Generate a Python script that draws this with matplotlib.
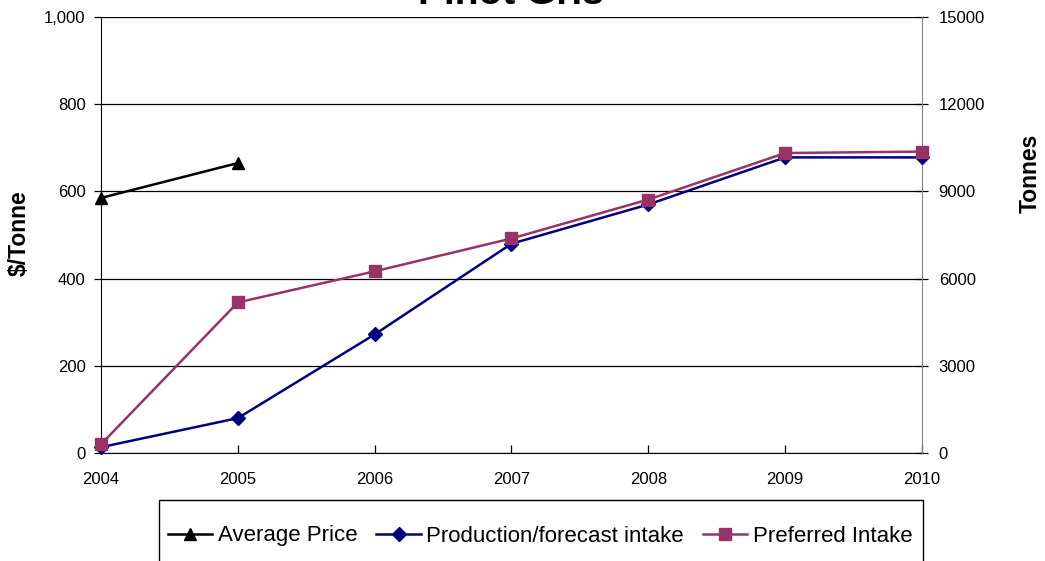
import matplotlib
matplotlib.use("Agg")
import matplotlib.pyplot as plt
from matplotlib.patches import Rectangle

plt.rcParams['font.family'] = ['Liberation Sans', 'DejaVu Sans']

years = [2004, 2005, 2006, 2007, 2008, 2009, 2010]
price_years = [2004, 2005]
average_price = [585, 665]
production_intake = [200, 1200, 4080, 7200, 8550, 10170, 10170]
preferred_intake = [300, 5180, 6250, 7380, 8720, 10320, 10370]

left_ticks = [0, 200, 400, 600, 800, 1000]
right_ticks = [0, 3000, 6000, 9000, 12000, 15000]

W, H = 1045, 561
fig = plt.figure(figsize=(W/100, H/100), dpi=100)
ax = fig.add_axes([101/W, 1-453/H, (922-101)/W, (453-17)/H])
ax2 = ax.twinx()

ax.set_xlim(2004, 2010)
ax.set_ylim(0, 1000)
ax2.set_ylim(0, 15000)
ax.set_yticks(left_ticks)
ax.set_yticklabels([f"{v:,}" for v in left_ticks])
ax2.set_yticks(right_ticks)
ax2.set_yticklabels([str(v) for v in right_ticks])
ax.set_xticks(years)
ax.set_xticklabels([str(y) for y in years])

ax.grid(axis='y', color='black', linewidth=0.9)
ax.set_axisbelow(True)

for a in (ax, ax2):
    a.spines['top'].set_visible(False)
ax.spines['left'].set_color('black')
ax.spines['bottom'].set_color('black')
ax2.spines['right'].set_color('#808080')
ax2.spines['left'].set_visible(False)
ax2.spines['bottom'].set_visible(False)
ax.spines['right'].set_visible(False)

ax.tick_params(axis='x', labelsize=12, length=6, width=0.9, color='black',
               direction='in', pad=14)
ax.tick_params(axis='y', labelsize=12, length=5, width=0.9, color='black',
               direction='out', pad=6)
ax2.tick_params(axis='y', labelsize=12, length=8, direction='inout', width=0.9,
                color='black', pad=8)

l1, = ax.plot(price_years, average_price, color='black', linewidth=1.8,
              marker='^', markersize=9, clip_on=False, zorder=5)
l2, = ax2.plot(years, production_intake, color='#000080', linewidth=1.8,
               marker='D', markersize=7, clip_on=False, zorder=5)
l3, = ax2.plot(years, preferred_intake, color='#993366', linewidth=1.8,
               marker='s', markersize=9, clip_on=False, zorder=6)

fig.text(19/W, 1-233/H, '$/Tonne', rotation=90, ha='center', va='center',
         fontsize=16.5, fontweight='bold')
fig.text(1030/W, 1-173/H, 'Tonnes', rotation=90, ha='center', va='center',
         fontsize=16.5, fontweight='bold')
fig.text(511/W, 1-4/H, 'Pinot Gris', ha='center', va='baseline',
         fontsize=28, fontweight='bold')

# legend frame (extends past the bottom edge as in the reference)
fig.patches.append(Rectangle((159/W, 1-600/H), (923-159)/W, 100/H,
                             transform=fig.transFigure, facecolor='white',
                             edgecolor='black', linewidth=1.0, zorder=0))

leg = fig.legend([l1, l2, l3], ['Average Price', 'Production/forecast intake', 'Preferred Intake'],
                 loc='center left', bbox_to_anchor=(159/W, 1-536/H), ncol=3,
                 fontsize=16, frameon=False,
                 handlelength=2.0, handletextpad=0.25, columnspacing=0.85,
                 borderpad=0.4, borderaxespad=0)

fig.savefig('out.png', dpi=100)
